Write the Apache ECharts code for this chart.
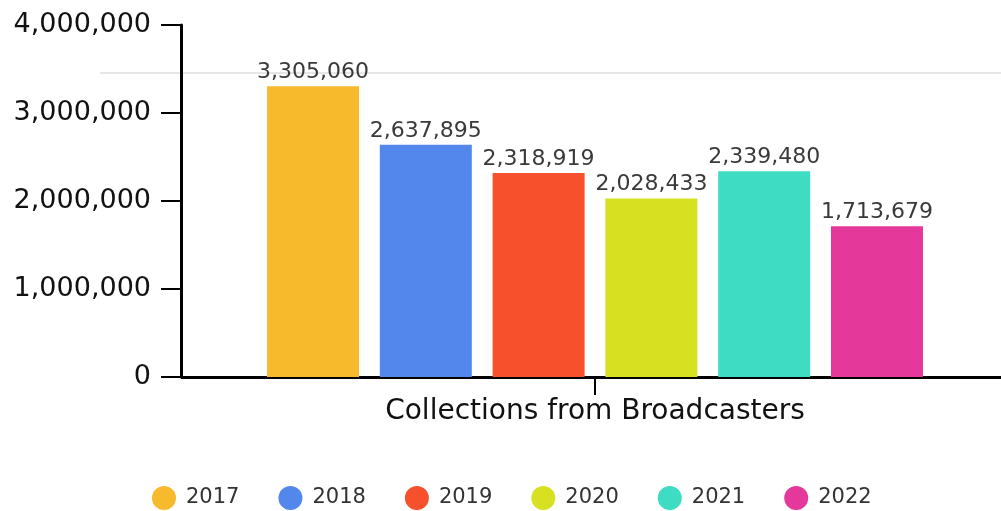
<!DOCTYPE html>
<html><head><meta charset="utf-8">
<script src="https://cdn.jsdelivr.net/npm/echarts@6/dist/echarts.min.js"></script>
<style>html,body{margin:0;padding:0;background:#fff}#c{width:1001px;height:511px}</style>
</head><body><div id="c"></div>
<script>
const categories = ["Collections from Broadcasters"];
const years = ["2017","2018","2019","2020","2021","2022"];
const values = [3305060, 2637895, 2318919, 2028433, 2339480, 1713679];
const colors = ["#F6BA2C","#5387EC","#F6502C","#D7E021","#3DDCC3","#E4399A"];
const yTicks = [0, 1000000, 2000000, 3000000, 4000000];

const FONT = "DejaVu Sans";
const fmt = v => Number(v).toLocaleString('en-US');
const chart = echarts.init(document.getElementById('c'));
chart.setOption({
  animation: false,
  textStyle: {fontFamily: FONT},
  grid: {left: 189, right: 0, top: 25, bottom: 134},
  legend: {
    top: 481, left: 147, icon: 'circle', itemWidth: 24, itemHeight: 24, itemGap: 39,
    textStyle: {fontFamily: FONT, fontSize: 21, color: '#333', padding: [0,0,0,5]},
    data: years
  },
  graphic: [{
    type: 'line', shape: {x1: 100, y1: 73, x2: 1001, y2: 73},
    style: {stroke: '#e6e6e6', lineWidth: 2}, z: 0
  }, {
    type: 'line', shape: {x1: 181, y1: 377.5, x2: 190, y2: 377.5},
    style: {stroke: '#000', lineWidth: 3}, z: 10
  }],
  xAxis: {
    type: 'category', data: categories,
    axisLine: {lineStyle: {color: '#000', width: 3}},
    axisTick: {show: true, alignWithLabel: true, length: 18, lineStyle: {color: '#000', width: 2}},
    axisLabel: {color: '#111', fontSize: 28, margin: 21, fontFamily: FONT}
  },
  yAxis: {
    type: 'value', min: yTicks[0], max: yTicks[yTicks.length-1], interval: 1000000, offset: 8,
    splitLine: {show: false},
    axisLine: {show: true, lineStyle: {color: '#000', width: 3}},
    axisTick: {show: true, length: 20, lineStyle: {color: '#000', width: 2}},
    axisLabel: {color: '#111', fontSize: 27, margin: 30, fontFamily: FONT, formatter: fmt}
  },
  series: years.map((y, i) => ({
    name: y, type: 'bar', barWidth: 92, barGap: '22.6%', barCategoryGap: '20%',
    itemStyle: {color: colors[i]},
    label: {show: true, position: 'top', distance: 3, color: '#3a3a3a', fontSize: 22, fontFamily: FONT, formatter: p => fmt(p.value)},
    data: [values[i]]
  }))
});
</script></body></html>
